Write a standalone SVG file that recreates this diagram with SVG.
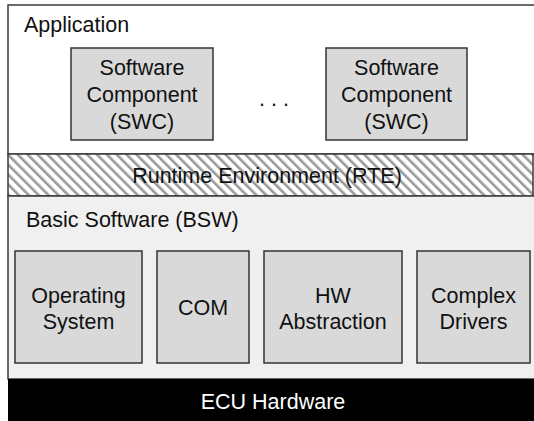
<svg xmlns="http://www.w3.org/2000/svg" width="534" height="421" viewBox="0 0 534 421">
  <defs>
    <pattern id="hatch" patternUnits="userSpaceOnUse" width="7" height="7" patternTransform="rotate(-45)">
      <rect width="7" height="7" fill="#ffffff"/>
      <rect x="0" y="0" width="2.6" height="7" fill="#9a9a9a"/>
    </pattern>
    <style>
      .layer { stroke: #3a3a3a; stroke-width: 1.5; }
      .box { fill: #d9d9d9; stroke: #333333; stroke-width: 1.5; }
      .lbl { font-family: "Liberation Sans", Arial, sans-serif; font-size: 21.5px; fill: #111111; }
      .mid { text-anchor: middle; }
    </style>
  </defs>

  <!-- layers -->
  <g id="application">
    <rect class="layer" x="8" y="5" width="540" height="149" fill="#ffffff"/>
    <text class="lbl" x="24" y="32">Application</text>
  </g>
  <g id="rte">
    <rect class="layer" x="8" y="154" width="525" height="42" fill="url(#hatch)"/>
    <text class="lbl mid" x="267" y="183">Runtime Environment (RTE)</text>
  </g>
  <g id="bsw">
    <rect class="layer" x="8" y="196" width="540" height="183" fill="#f0f0f0"/>
    <text class="lbl" x="26" y="227">Basic Software (BSW)</text>
  </g>
  <g id="ecu-hardware">
    <rect x="8" y="379" width="540" height="50" fill="#000000"/>
    <text class="lbl mid" x="273" y="409" fill="#ffffff" style="fill:#ffffff">ECU Hardware</text>
  </g>

  <!-- application components -->
  <g id="swc-1">
    <rect class="box" x="71" y="48" width="142" height="92"/>
    <text class="lbl mid" x="142" y="75">Software</text>
    <text class="lbl mid" x="142" y="102">Component</text>
    <text class="lbl mid" x="142" y="129">(SWC)</text>
  </g>
  <g id="ellipsis">
    <text class="lbl" x="259" y="106">. . .</text>
  </g>
  <g id="swc-2">
    <rect class="box" x="326" y="48" width="141" height="92"/>
    <text class="lbl mid" x="396.5" y="75">Software</text>
    <text class="lbl mid" x="396.5" y="102">Component</text>
    <text class="lbl mid" x="396.5" y="129">(SWC)</text>
  </g>

  <!-- basic software modules -->
  <g id="os">
    <rect class="box" x="15" y="251" width="127" height="112"/>
    <text class="lbl mid" x="78.5" y="303">Operating</text>
    <text class="lbl mid" x="78.5" y="329">System</text>
  </g>
  <g id="com">
    <rect class="box" x="157" y="251" width="92" height="112"/>
    <text class="lbl mid" x="203" y="315">COM</text>
  </g>
  <g id="hw-abstraction">
    <rect class="box" x="264" y="251" width="138" height="112"/>
    <text class="lbl mid" x="333" y="303">HW</text>
    <text class="lbl mid" x="333" y="329">Abstraction</text>
  </g>
  <g id="complex-drivers">
    <rect class="box" x="417" y="251" width="113" height="112"/>
    <text class="lbl mid" x="473.5" y="303">Complex</text>
    <text class="lbl mid" x="473.5" y="329">Drivers</text>
  </g>

  <g id="connectors"/>
</svg>
